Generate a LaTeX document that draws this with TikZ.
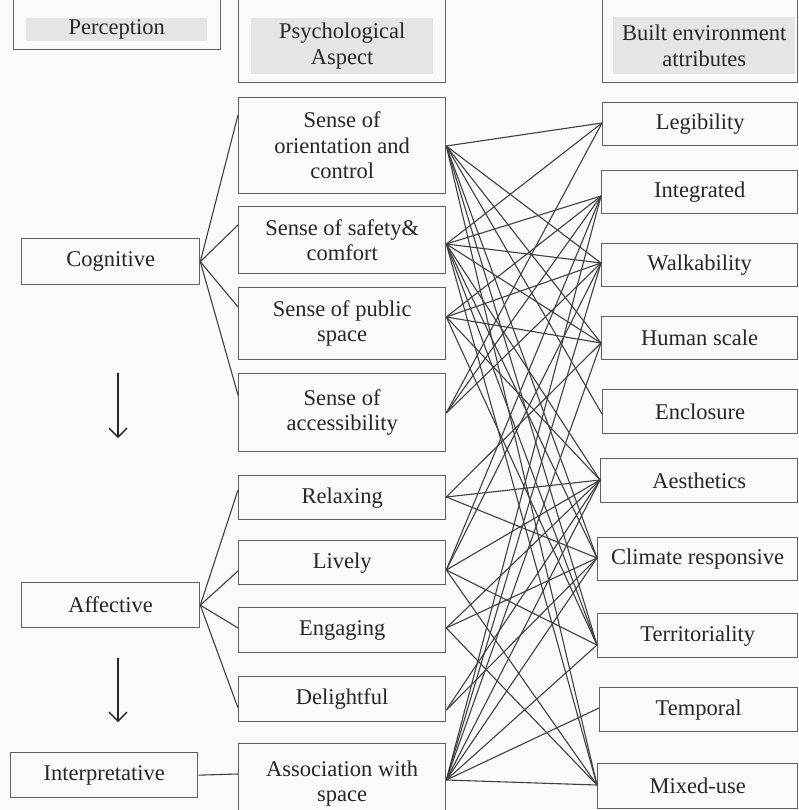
\documentclass[tikz,border=0pt]{standalone}
\usepackage{fontspec}
\setmainfont{Liberation Serif}
\usetikzlibrary{arrows.meta,calc}
\newcommand\mybox[6]{\node[box,lab,anchor=north west,minimum width=#4pt,minimum height=#5pt] (#1) at (#2,#3) {#6};}
\begin{document}
\begin{tikzpicture}[x=1pt,y=-1pt,
  box/.style={draw=black!62, line width=1.3pt, inner sep=0pt},
  lab/.style={font=\fontsize{22.5}{25.5}\selectfont, align=center, text=black!85},
  hdr/.style={fill=black!10, draw=none, inner sep=0pt, anchor=north west},
  conn/.style={draw=black!75, line width=1.1pt},
  arr/.style={draw=black!85, line width=1.4pt, -{Straight Barb[length=9pt,width=18pt,line width=1.4pt]}},
]
\fill[black!2] (0,0) rectangle (799,810);
\useasboundingbox (0,0) rectangle (799,810);
% headers
\mybox{percO}{13}{-5}{207}{54}{}
\node[hdr,lab,minimum width=181pt,minimum height=23pt] (perc) at (26,18) {Perception};
\mybox{psyO}{238}{-5}{207}{87}{}
\node[hdr,lab,minimum width=182pt,minimum height=56pt] (psy) at (251,18) {Psychological\\Aspect};
\mybox{bltO}{602}{-5}{195}{87}{}
\node[hdr,lab,minimum width=182pt,minimum height=57pt] (blt) at (613,17) {Built environment\\attributes};
% left column
\mybox{cog}{21}{238}{178}{46}{Cognitive}
\mybox{aff}{21}{582}{178}{45}{Affective}
\mybox{int}{10}{752}{187}{45}{Interpretative}
% middle column
\mybox{ori}{238}{97}{207}{96}{Sense of\\orientation and\\control}
\mybox{saf}{238}{206}{207}{67}{Sense of safety\&\\comfort}
\mybox{pub}{238}{287}{207}{72}{Sense of public\\space}
\mybox{acc}{238}{373}{207}{78}{Sense of\\accessibility}
\mybox{rel}{238}{475}{207}{44}{Relaxing}
\mybox{liv}{238}{540}{207}{44}{Lively}
\mybox{eng}{238}{607}{207}{45}{Engaging}
\mybox{del}{238}{676}{207}{45}{Delightful}
\mybox{ass}{238}{743}{207}{80}{Association with\\space}
% right column
\mybox{leg}{602}{102}{195}{43}{Legibility}
\mybox{itg}{601}{170}{196}{43}{Integrated}
\mybox{wlk}{601}{243}{196}{43}{Walkability}
\mybox{hum}{601}{316}{196}{43}{Human scale}
\mybox{enc}{602}{389}{195}{44}{Enclosure}
\mybox{aes}{600}{458}{197}{44}{Aesthetics}
\mybox{cli}{597}{537}{200}{43}{Climate responsive}
\mybox{ter}{597}{613}{200}{44}{Territoriality}
\mybox{tem}{599}{687}{198}{44}{Temporal}
\mybox{mix}{597}{763}{200}{45}{Mixed-use}
% anchor points
\coordinate (cR) at (cog.east);
\coordinate (aR) at (aff.east);
\coordinate (oL) at (ori.west |- 0,115);
\coordinate (sL) at (saf.west |- 0,225);
\coordinate (pL) at (pub.west |- 0,307);
\coordinate (acL) at (acc.west |- 0,395);
\coordinate (rL) at (rel.west |- 0,490);
\coordinate (lL) at (liv.west |- 0,571);
\coordinate (eL) at (eng.west |- 0,628);
\coordinate (dL) at (del.west |- 0,708);
\coordinate (asL) at (ass.west |- 0,774);
\coordinate (O) at (ori.east |- 0,146);
\coordinate (S) at (saf.east |- 0,244);
\coordinate (P) at (pub.east |- 0,317);
\coordinate (A) at (acc.east |- 0,413);
\coordinate (R) at (rel.east |- 0,497);
\coordinate (L) at (liv.east |- 0,570);
\coordinate (E) at (eng.east |- 0,628);
\coordinate (D) at (del.east |- 0,710);
\coordinate (As) at (ass.east |- 0,780);
\coordinate (Leg) at (leg.west |- 0,123);
\coordinate (Itg) at (itg.west |- 0,196);
\coordinate (Wlk) at (wlk.west |- 0,263);
\coordinate (Hum) at (hum.west |- 0,343);
\coordinate (Enc) at (enc.west |- 0,414);
\coordinate (Aes) at (aes.west |- 0,480);
\coordinate (Cli) at (cli.west |- 0,558);
\coordinate (Ter) at (ter.west |- 0,645);
\coordinate (Tem) at (tem.west |- 0,708);
\coordinate (Mix) at (mix.west |- 0,785);
% left fans
\foreach \t in {oL,sL,pL,acL} \draw[conn] (cR) -- (\t);
\foreach \t in {rL,lL,eL,dL} \draw[conn] (aR) -- (\t);
\draw[conn] (int.east) -- (asL);
% arrows
\coordinate (a1s) at (118,373); \coordinate (a1e) at (118,438);
\coordinate (a2s) at (118,658); \coordinate (a2e) at (118,722);
\draw[arr] (a1s) -- (a1e);
\draw[arr] (a2s) -- (a2e);
% middle to right
\foreach \t in {Leg,Wlk,Hum,Enc,Cli,Ter,Mix} \draw[conn] (O) -- (\t);
\foreach \t in {Leg,Itg,Wlk,Hum,Aes,Cli,Ter,Mix} \draw[conn] (S) -- (\t);
\foreach \t in {Itg,Wlk,Hum,Aes,Ter} \draw[conn] (P) -- (\t);
\foreach \t in {Leg,Itg,Wlk} \draw[conn] (A) -- (\t);
\foreach \t in {Hum,Aes,Cli} \draw[conn] (R) -- (\t);
\foreach \t in {Itg,Wlk,Aes,Ter,Mix} \draw[conn] (L) -- (\t);
\foreach \t in {Aes,Cli,Mix} \draw[conn] (E) -- (\t);
\foreach \t in {Aes,Cli} \draw[conn] (D) -- (\t);
\foreach \t in {Itg,Wlk,Hum,Aes,Cli,Ter,Tem,Mix} \draw[conn] (As) -- (\t);
\end{tikzpicture}
\end{document}
